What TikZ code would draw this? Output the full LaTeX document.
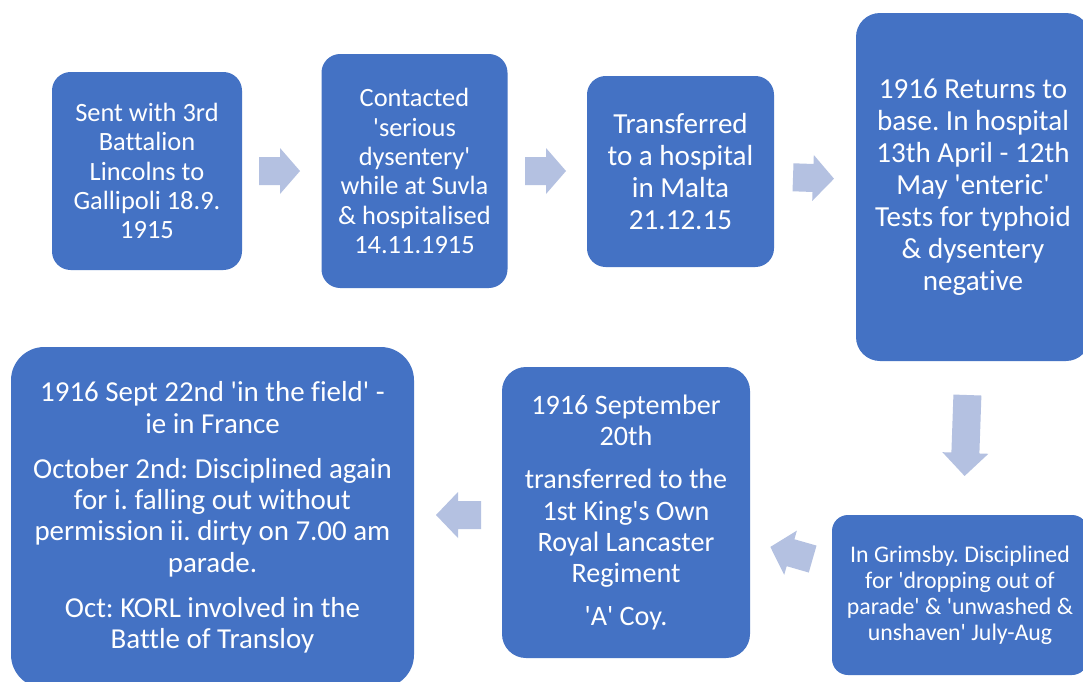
\documentclass[tikz,border=0pt]{standalone}
\usepackage{fontspec}
\setmainfont{Carlito}[Ligatures={TeXOff,NoCommon}]
\frenchspacing
\definecolor{boxblue}{RGB}{68,114,196}
\definecolor{arrowfill}{RGB}{180,193,225}
\tikzset{
  pbox/.style={fill=boxblue, text=white, align=center, inner sep=0pt, rounded corners=#1},
  fA/.style={font=\fontsize{19.8}{22}\selectfont},
  fB/.style={font=\fontsize{21.8}{24}\selectfont},
  fC/.style={font=\fontsize{17.9}{19.5}\selectfont},
  fD/.style={font=\fontsize{21.1}{23.3}\selectfont},
  fE/.style={font=\fontsize{21.7}{23.6}\selectfont},
}
% cx cy angle length headlength
\newcommand\blockarrow[5]{%
  \fill[arrowfill, shift={(#1,#2)}, rotate=#3]
    ({-#4/2},-14) -- ({#4/2-#5},-14) -- ({#4/2-#5},-23) -- ({#4/2},0)
    -- ({#4/2-#5},23) -- ({#4/2-#5},14) -- ({-#4/2},14) -- cycle;}
\begin{document}
\frenchspacing
\begin{tikzpicture}[x=0.75pt,y=-0.75pt]
\clip (0,0) rectangle (1083,682);
\fill[white] (0,0) rectangle (1083,682);

\node[pbox=14pt, fA, minimum width=142.5pt, minimum height=148.5pt] (b1) at (147,171)
  {Sent with 3rd\\Battalion\\Lincolns to\\Gallipoli 18.9.\\1915};
\node[pbox=14pt, fA, minimum width=139.5pt, minimum height=175.5pt] (b2) at (414.5,171)
  {Contacted\\'serious\\dysentery'\\while at Suvla\\\& hospitalised\\14.11.1915};
\node[pbox=14pt, fB, minimum width=140.25pt, minimum height=143.25pt] (b3) at (680.5,171.5)
  {Transferred\\to a hospital\\in Malta\\21.12.15};
\node[pbox=18pt, fB, minimum width=175.5pt, minimum height=261pt] (b4) at (973,187)
  {1916 Returns to\\base. In hospital\\13th April - 12th\\May 'enteric'\\Tests for typhoid\\\& dysentery\\negative};
\node[pbox=12pt, fC, minimum width=192pt, minimum height=120pt] (b5) at (960,595)
  {In Grimsby. Disciplined\\for 'dropping out of\\parade' \& 'unwashed \&\\unshaven' July-Aug};
\node[pbox=18pt, fD, minimum width=186pt, minimum height=218.25pt] (b6) at (626,512.5)
  {1916 September\\20th\\[9pt]transferred to the\\1st King's Own\\Royal Lancaster\\Regiment\\[9pt]'A' Coy.};
\node[pbox=25pt, fE, minimum width=302.25pt, minimum height=255.75pt] (b7) at (212.5,517.5)
  {1916 Sept 22nd 'in the field' -\\ie in France\\[10pt]October 2nd: Disciplined again\\for i. falling out without\\permission ii. dirty on 7.00 am\\parade.\\[10pt]Oct: KORL involved in the\\Battle of Transloy};

\blockarrow{279.5}{171}{0}{41}{20}
\blockarrow{545.5}{171}{0}{41}{20}
\blockarrow{813.5}{178}{-2}{41}{21}
\blockarrow{966}{435.5}{-92}{81}{23}
\blockarrow{791.5}{553}{164}{44}{21}
\blockarrow{458.5}{515}{180}{45}{22}
\end{tikzpicture}
\end{document}
